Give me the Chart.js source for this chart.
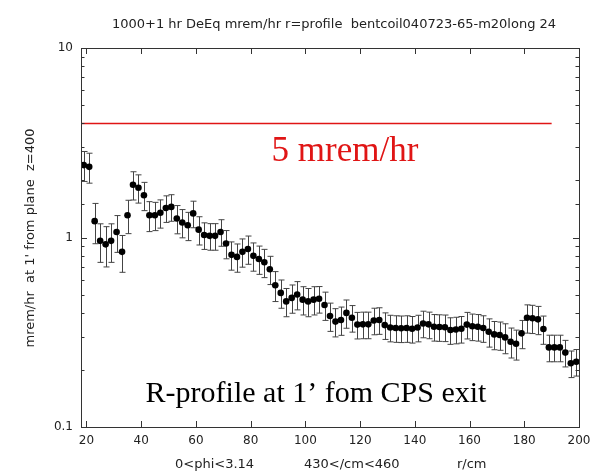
<!DOCTYPE html>
<html>
<head>
<meta charset="utf-8">
<script src="https://cdn.jsdelivr.net/npm/chart.js@4.4.0/dist/chart.umd.min.js"></script>
<style>
  html, body { margin: 0; padding: 0; background: #fff; }
</style>
</head>
<body>
<canvas id="doseChart" width="604" height="475"></canvas>
<script>
// r bin centres (cm)
const rValues = [19, 21, 23, 25, 27, 29, 31, 33, 35, 37, 39, 41, 43, 45, 47, 49, 51, 53, 55, 57,
  59, 61, 63, 65, 67, 69, 71, 73, 75, 77, 79, 81, 83, 85, 87, 89, 91, 93, 95, 97,
  99, 101, 103, 105, 107, 109, 111, 113, 115, 117, 119, 121, 123, 125, 127, 129, 131, 133, 135, 137,
  139, 141, 143, 145, 147, 149, 151, 153, 155, 157, 159, 161, 163, 165, 167, 169, 171, 173, 175, 177,
  179, 181, 183, 185, 187, 189, 191, 193, 195, 197, 199];

// dose rate, mrem/hr
const doseValues = [2.41, 2.36, 1.22, 0.96, 0.92, 0.96, 1.07, 0.84, 1.31, 1.90, 1.83, 1.67, 1.31, 1.31, 1.35, 1.43, 1.45, 1.26, 1.20, 1.16,
  1.34, 1.10, 1.03, 1.02, 1.02, 1.07, 0.93, 0.81, 0.79, 0.84, 0.87, 0.80, 0.77, 0.74, 0.68, 0.56, 0.51, 0.46, 0.48, 0.50,
  0.47, 0.46, 0.47, 0.475, 0.44, 0.385, 0.36, 0.367, 0.40, 0.377, 0.347, 0.348, 0.348, 0.365, 0.367, 0.345, 0.335, 0.333, 0.332, 0.333,
  0.330, 0.335, 0.352, 0.348, 0.338, 0.337, 0.336, 0.325, 0.327, 0.330, 0.347, 0.340, 0.338, 0.333, 0.318, 0.308, 0.306, 0.297, 0.282, 0.275,
  0.312, 0.377, 0.375, 0.370, 0.329, 0.263, 0.263, 0.263, 0.247, 0.217, 0.221];

// relative error of each point
const relErrors = [0.18, 0.18, 0.24, 0.23, 0.24, 0.23, 0.22, 0.22, 0.20, 0.17, 0.17, 0.17, 0.18, 0.17, 0.17, 0.16, 0.16, 0.17, 0.17, 0.17,
  0.16, 0.17, 0.16, 0.16, 0.16, 0.16, 0.17, 0.17, 0.17, 0.17, 0.17, 0.17, 0.17, 0.17, 0.17, 0.18, 0.17, 0.17, 0.17, 0.17,
  0.17, 0.17, 0.17, 0.16, 0.17, 0.17, 0.17, 0.17, 0.17, 0.16, 0.16, 0.16, 0.16, 0.16, 0.16, 0.16, 0.16, 0.16, 0.16, 0.16,
  0.16, 0.16, 0.16, 0.16, 0.16, 0.16, 0.16, 0.16, 0.16, 0.16, 0.16, 0.16, 0.16, 0.16, 0.17, 0.17, 0.17, 0.18, 0.18, 0.18,
  0.17, 0.17, 0.17, 0.17, 0.17, 0.16, 0.16, 0.16, 0.16, 0.16, 0.16];

// 5 mrem/hr limit line as drawn
const limitX = [18, 190];
const limitY = [4, 4];

const xTickValues = [20, 40, 60, 80, 100, 120, 140, 160, 180, 200];
const yTickLabels = [0.1, 1, 10];

const titleText = "1000+1 hr DeEq mrem/hr r=profile  bentcoil040723-65-m20long 24";
const yLabelText = "mrem/hr  at 1' from plane  z=400";
const xLabelTexts = ["0<phi<3.14", "430</cm<460", "r/cm"];
const limitText = "5 mrem/hr";
const noteText = "R-profile at 1\u2019 fom CPS exit";

const points = rValues.map((r, i) => ({ x: r, y: doseValues[i] }));
const limitPoints = limitX.map((x, i) => ({ x: x, y: limitY[i] }));

function isDecade(v) {
  const l = Math.log10(v);
  return Math.abs(l - Math.round(l)) < 1e-6;
}

// error bars under the points
const errorBars = {
  id: "errorBars",
  beforeDatasetsDraw(chart) {
    const { ctx, scales: { x, y } } = chart;
    ctx.save();
    ctx.lineWidth = 1;
    ctx.strokeStyle = "#444";
    rValues.forEach((r, i) => {
      const v = doseValues[i];
      const e = relErrors[i] * v;
      const px = Math.round(x.getPixelForValue(r)) + 0.5;
      const top = y.getPixelForValue(v + e);
      const bot = y.getPixelForValue(v - e);
      ctx.beginPath();
      ctx.moveTo(px, top); ctx.lineTo(px, bot);
      ctx.moveTo(px - 3, top); ctx.lineTo(px + 3, top);
      ctx.moveTo(px - 3, bot); ctx.lineTo(px + 3, bot);
      ctx.stroke();
    });
    ctx.restore();
  }
};

// frame, inward ticks and all the text
const frame = {
  id: "frame",
  afterDraw(chart) {
    const { ctx, chartArea: a, scales: { x, y } } = chart;
    ctx.save();
    ctx.strokeStyle = "#333";
    ctx.lineWidth = 1;
    ctx.strokeRect(a.left + 0.5, a.top + 0.5, a.right - a.left, a.bottom - a.top);
    ctx.beginPath();
    xTickValues.forEach(v => {
      const px = Math.round(x.getPixelForValue(v)) + 0.5;
      ctx.moveTo(px, a.bottom); ctx.lineTo(px, a.bottom - 6);
      ctx.moveTo(px, a.top); ctx.lineTo(px, a.top + 6);
    });
    y.ticks.forEach(t => {
      const py = Math.round(y.getPixelForValue(t.value)) + 0.5;
      const len = isDecade(t.value) ? 6 : 3.5;
      ctx.moveTo(a.left, py); ctx.lineTo(a.left + len, py);
      ctx.moveTo(a.right, py); ctx.lineTo(a.right - len, py);
    });
    ctx.stroke();

    ctx.fillStyle = "#222";
    ctx.textBaseline = "middle";
    ctx.textAlign = "center";
    ctx.font = "12px 'DejaVu Sans'";
    xTickValues.forEach(v => {
      ctx.fillText(String(v), x.getPixelForValue(v), a.bottom + 14);
    });

    ctx.font = "13px 'DejaVu Sans'";
    ctx.fillText(titleText, 334, 25);

    ctx.textAlign = "left";
    ctx.fillText(xLabelTexts[0], 175, 465);
    ctx.fillText(xLabelTexts[1], 304, 465);
    ctx.fillText(xLabelTexts[2], 457, 465);

    ctx.textAlign = "center";
    ctx.save();
    ctx.translate(31, 238);
    ctx.rotate(-Math.PI / 2);
    ctx.fillText(yLabelText, 0, 0);
    ctx.restore();

    ctx.textBaseline = "alphabetic";
    ctx.fillStyle = "#e01515";
    ctx.font = "35px 'Liberation Serif'";
    ctx.fillText(limitText, 345, 161);
    ctx.fillStyle = "#000";
    ctx.font = "30px 'Liberation Serif'";
    ctx.fillText(noteText, 316, 402);
    ctx.restore();
  }
};

Chart.defaults.font.family = "'DejaVu Sans'";
Chart.defaults.font.size = 12;
Chart.defaults.color = "#222";

new Chart(document.getElementById("doseChart"), {
  type: "scatter",
  data: {
    datasets: [
      {
        label: "dose",
        data: points,
        showLine: false,
        pointRadius: 3.3,
        pointBackgroundColor: "#000",
        pointBorderColor: "#000",
        pointBorderWidth: 0
      },
      {
        type: "line",
        label: "limit",
        data: limitPoints,
        borderColor: "#e01515",
        borderWidth: 1.5,
        pointRadius: 0,
        fill: false
      }
    ]
  },
  options: {
    responsive: false,
    animation: false,
    devicePixelRatio: 1,
    layout: { padding: { top: 48, right: 25, left: 0, bottom: 0 } },
    plugins: {
      legend: { display: false },
      tooltip: { enabled: false }
    },
    scales: {
      x: {
        type: "linear",
        min: 18,
        max: 200,
        grid: { display: false, drawTicks: false },
        border: { display: false },
        ticks: { display: false },
        afterFit: s => { s.height = 48; }
      },
      y: {
        type: "logarithmic",
        min: 0.1,
        max: 10,
        grid: { display: false, drawTicks: false },
        border: { display: false },
        ticks: {
          autoSkip: false,
          padding: 8,
          callback: v => yTickLabels.some(t => Math.abs(t - v) < 1e-9) ? String(v) : ""
        },
        afterFit: s => { s.width = 81; }
      }
    }
  },
  plugins: [errorBars, frame]
});
</script>
</body>
</html>
